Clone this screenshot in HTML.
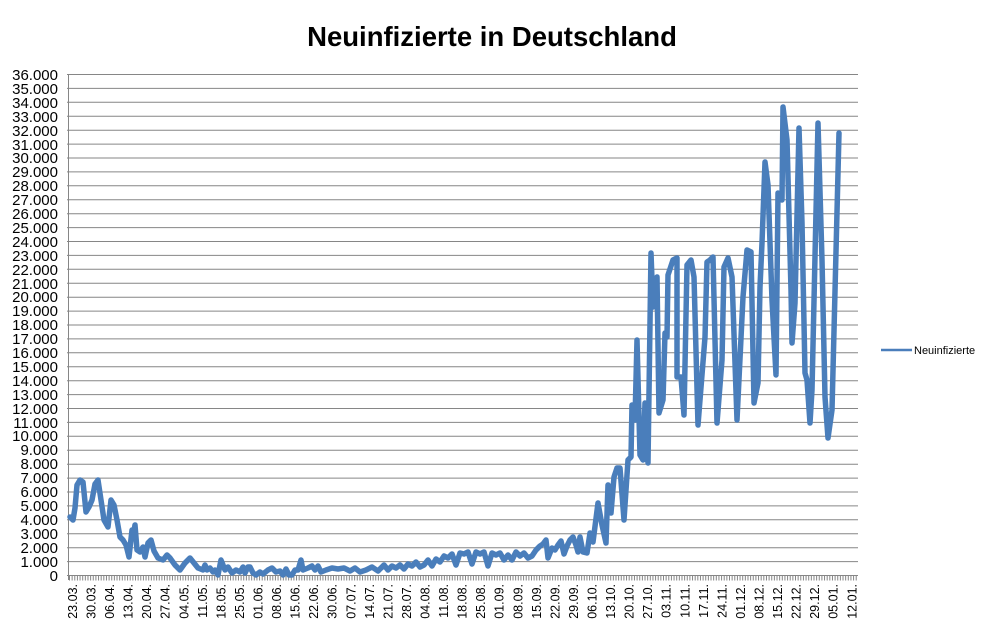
<!DOCTYPE html>
<html><head><meta charset="utf-8"><style>
html,body{margin:0;padding:0;background:#fff;}
svg{display:block;font-family:"Liberation Sans",sans-serif;}
</style></head><body>
<svg width="990" height="639" viewBox="0 0 990 639">
<rect width="990" height="639" fill="#fff"/>
<text x="492" y="46" text-anchor="middle" font-size="27.5" font-weight="bold" fill="#000">Neuinfizierte in Deutschland</text>
<g stroke="#868686" stroke-width="1">
<line x1="67" y1="74.5" x2="858" y2="74.5"/><line x1="67" y1="88.4" x2="858" y2="88.4"/><line x1="67" y1="102.3" x2="858" y2="102.3"/><line x1="67" y1="116.3" x2="858" y2="116.3"/><line x1="67" y1="130.2" x2="858" y2="130.2"/><line x1="67" y1="144.1" x2="858" y2="144.1"/><line x1="67" y1="158.0" x2="858" y2="158.0"/><line x1="67" y1="171.9" x2="858" y2="171.9"/><line x1="67" y1="185.8" x2="858" y2="185.8"/><line x1="67" y1="199.8" x2="858" y2="199.8"/><line x1="67" y1="213.7" x2="858" y2="213.7"/><line x1="67" y1="227.6" x2="858" y2="227.6"/><line x1="67" y1="241.5" x2="858" y2="241.5"/><line x1="67" y1="255.4" x2="858" y2="255.4"/><line x1="67" y1="269.3" x2="858" y2="269.3"/><line x1="67" y1="283.3" x2="858" y2="283.3"/><line x1="67" y1="297.2" x2="858" y2="297.2"/><line x1="67" y1="311.1" x2="858" y2="311.1"/><line x1="67" y1="325.0" x2="858" y2="325.0"/><line x1="67" y1="338.9" x2="858" y2="338.9"/><line x1="67" y1="352.8" x2="858" y2="352.8"/><line x1="67" y1="366.8" x2="858" y2="366.8"/><line x1="67" y1="380.7" x2="858" y2="380.7"/><line x1="67" y1="394.6" x2="858" y2="394.6"/><line x1="67" y1="408.5" x2="858" y2="408.5"/><line x1="67" y1="422.4" x2="858" y2="422.4"/><line x1="67" y1="436.3" x2="858" y2="436.3"/><line x1="67" y1="450.3" x2="858" y2="450.3"/><line x1="67" y1="464.2" x2="858" y2="464.2"/><line x1="67" y1="478.1" x2="858" y2="478.1"/><line x1="67" y1="492.0" x2="858" y2="492.0"/><line x1="67" y1="505.9" x2="858" y2="505.9"/><line x1="67" y1="519.8" x2="858" y2="519.8"/><line x1="67" y1="533.8" x2="858" y2="533.8"/><line x1="67" y1="547.7" x2="858" y2="547.7"/><line x1="67" y1="561.6" x2="858" y2="561.6"/><line x1="67" y1="575.5" x2="858" y2="575.5"/>
<line x1="68.5" y1="74.5" x2="68.5" y2="580"/>
</g>
<line x1="69" y1="578" x2="858" y2="578" stroke="#868686" stroke-width="5" stroke-dasharray="1 1.64"/>
<g font-size="15" fill="#000" text-anchor="end">
<text x="58" y="80">36.000</text><text x="58" y="94">35.000</text><text x="58" y="108">34.000</text><text x="58" y="122">33.000</text><text x="58" y="136">32.000</text><text x="58" y="150">31.000</text><text x="58" y="163">30.000</text><text x="58" y="177">29.000</text><text x="58" y="191">28.000</text><text x="58" y="205">27.000</text><text x="58" y="219">26.000</text><text x="58" y="233">25.000</text><text x="58" y="247">24.000</text><text x="58" y="261">23.000</text><text x="58" y="275">22.000</text><text x="58" y="289">21.000</text><text x="58" y="302">20.000</text><text x="58" y="316">19.000</text><text x="58" y="330">18.000</text><text x="58" y="344">17.000</text><text x="58" y="358">16.000</text><text x="58" y="372">15.000</text><text x="58" y="386">14.000</text><text x="58" y="400">13.000</text><text x="58" y="414">12.000</text><text x="58" y="428">11.000</text><text x="58" y="441">10.000</text><text x="58" y="455">9.000</text><text x="58" y="469">8.000</text><text x="58" y="483">7.000</text><text x="58" y="497">6.000</text><text x="58" y="511">5.000</text><text x="58" y="525">4.000</text><text x="58" y="539">3.000</text><text x="58" y="553">2.000</text><text x="58" y="567">1.000</text><text x="58" y="581">0</text>
</g>
<g font-size="12.5" fill="#000" text-anchor="end">
<text transform="translate(77,584) rotate(-90)">23.03.</text>
<text transform="translate(95.5,584) rotate(-90)">30.03.</text>
<text transform="translate(114,584) rotate(-90)">06.04.</text>
<text transform="translate(132.6,584) rotate(-90)">13.04.</text>
<text transform="translate(151.2,584) rotate(-90)">20.04.</text>
<text transform="translate(169.7,584) rotate(-90)">27.04.</text>
<text transform="translate(188.3,584) rotate(-90)">04.05.</text>
<text transform="translate(206.8,584) rotate(-90)">11.05.</text>
<text transform="translate(225.4,584) rotate(-90)">18.05.</text>
<text transform="translate(244,584) rotate(-90)">25.05.</text>
<text transform="translate(262.5,584) rotate(-90)">01.06.</text>
<text transform="translate(281,584) rotate(-90)">08.06.</text>
<text transform="translate(299.6,584) rotate(-90)">15.06.</text>
<text transform="translate(318.2,584) rotate(-90)">22.06.</text>
<text transform="translate(336.7,584) rotate(-90)">30.06.</text>
<text transform="translate(355.3,584) rotate(-90)">07.07.</text>
<text transform="translate(373.8,584) rotate(-90)">14.07.</text>
<text transform="translate(392.4,584) rotate(-90)">21.07.</text>
<text transform="translate(411,584) rotate(-90)">28.07.</text>
<text transform="translate(429.5,584) rotate(-90)">04.08.</text>
<text transform="translate(448,584) rotate(-90)">11.08.</text>
<text transform="translate(466.6,584) rotate(-90)">18.08.</text>
<text transform="translate(485.2,584) rotate(-90)">25.08.</text>
<text transform="translate(503.7,584) rotate(-90)">01.09.</text>
<text transform="translate(522.3,584) rotate(-90)">08.09.</text>
<text transform="translate(540.8,584) rotate(-90)">15.09.</text>
<text transform="translate(559.4,584) rotate(-90)">22.09.</text>
<text transform="translate(578,584) rotate(-90)">29.09.</text>
<text transform="translate(596.5,584) rotate(-90)">06.10.</text>
<text transform="translate(615,584) rotate(-90)">13.10.</text>
<text transform="translate(633.6,584) rotate(-90)">20.10.</text>
<text transform="translate(652.2,584) rotate(-90)">27.10.</text>
<text transform="translate(670.7,584) rotate(-90)">03.11.</text>
<text transform="translate(689.3,584) rotate(-90)">10.11.</text>
<text transform="translate(707.8,584) rotate(-90)">17.11.</text>
<text transform="translate(726.4,584) rotate(-90)">24.11.</text>
<text transform="translate(745,584) rotate(-90)">01.12.</text>
<text transform="translate(763.5,584) rotate(-90)">08.12.</text>
<text transform="translate(782,584) rotate(-90)">15.12.</text>
<text transform="translate(800.6,584) rotate(-90)">22.12.</text>
<text transform="translate(819.2,584) rotate(-90)">29.12.</text>
<text transform="translate(837.7,584) rotate(-90)">05.01.</text>
<text transform="translate(856.3,584) rotate(-90)">12.01.</text>
</g>
<polyline fill="none" stroke="#4a7ebb" stroke-width="5.5" stroke-linejoin="round" stroke-linecap="round" points="
70,517 73,520 75,508 77,485 80,480 83,482 86,512 89,507 92,500 95,484 98,480 101,500 104,520 108,527 111,500 114,505 117,520 120,537 123,540 126,545 129,557 132,530 134,531 135,525 137,550 140,552 143,547 145,557 148,543 151,540 154,551 158,558 163,560 167,555 170,558 175,565 180,570 185,563 190,558 194,563 198,568 203,570 205,565 207,570 210,568 213,572 215,570 218,575 221,560 225,570 228,567 232,573 236,570 240,572 243,567 245,573 248,567 250,567 253,573 256,575 260,572 263,574 268,570 272,568 276,572 280,571 283,575 286,569 289,575 292,575 295,570 298,570 301,560 303,570 308,568 312,566 315,570 318,566 321,572 326,570 332,568 338,569 344,568 350,571 355,568 360,572 366,570 372,567 378,571 384,565 388,570 392,566 396,568 400,565 404,569 408,564 412,566 416,562 420,567 424,565 428,560 432,566 436,559 440,562 444,556 448,558 452,554 456,565 460,553 464,554 468,552 472,564 476,552 480,554 484,552 488,566 492,553 496,555 500,553 504,560 508,555 512,560 516,552 520,556 524,553 528,558 532,556 536,550 540,546 543,544 546,540 548,558 552,548 555,550 558,545 561,541 564,554 567,546 570,540 573,537 576,545 578,552 580,537 583,552 587,553 590,533 593,542 598,503 602,525 606,543 608,485 611,513 614,477 617,468 620,468 624,520 628,460 631,457 632,405 635,420 637,340 640,455 643,460 645,403 648,463 651,253 653,307 657,277 659,413 663,400 665,333 667,337 668,275 673,260 677,258 677,377 681,377 684,415 687,265 691,260 694,277 698,425 705,337 707,262 710,260 713,257 717,423 722,360 724,267 728,258 732,277 737,420 743,297 747,250 751,252 754,403 758,383 760,287 762,243 765,162 768,185 772,300 776,375 778,193 782,200 783,107 787,140 791,290 792,343 795,303 799,128 802,223 805,373 807,380 810,423 812,390 818,123 822,260 825,397 828,438 832,410 839,133"/>
<line x1="881" y1="350" x2="912" y2="350" stroke="#4a7ebb" stroke-width="2.5"/>
<text x="914" y="354" font-size="11" fill="#000">Neuinfizierte</text>
</svg>
</body></html>
